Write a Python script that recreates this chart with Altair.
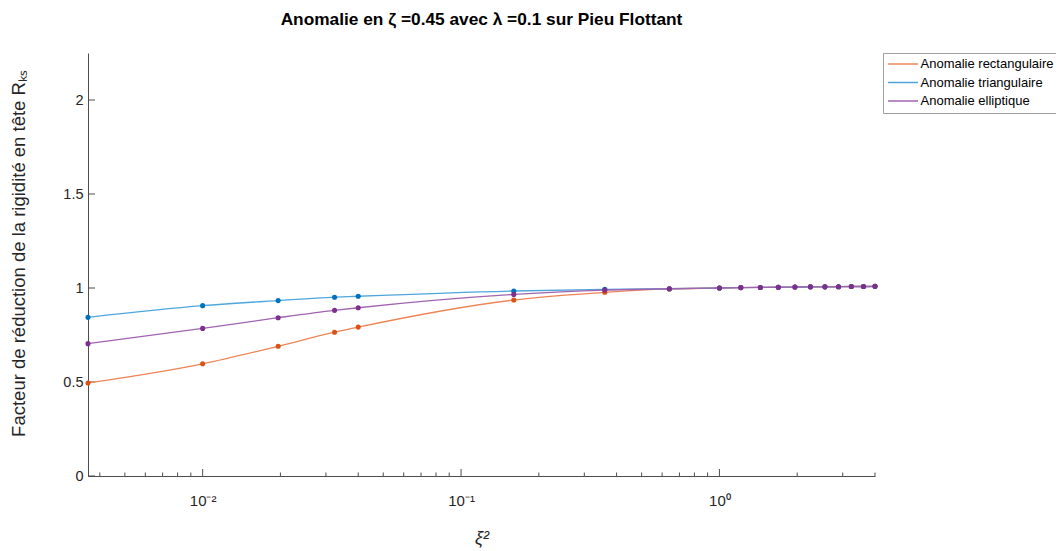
import altair as alt
import pandas as pd

# ---- data ----
xi2 = [0.0036, 0.01, 0.0196, 0.0324, 0.04, 0.16, 0.36, 0.64, 1.0, 1.21, 1.44,
       1.69, 1.96, 2.25, 2.56, 2.89, 3.24, 3.61, 4.0]
rect = [0.495, 0.597, 0.690, 0.765, 0.792, 0.936, 0.977, 0.995, 1.000, 1.002,
        1.003, 1.004, 1.005, 1.006, 1.006, 1.007, 1.008, 1.008, 1.009]
tri = [0.844, 0.906, 0.933, 0.951, 0.956, 0.984, 0.993, 0.996, 1.000, 1.002,
       1.003, 1.004, 1.005, 1.006, 1.006, 1.007, 1.008, 1.008, 1.009]
ell = [0.704, 0.785, 0.842, 0.881, 0.895, 0.966, 0.989, 0.996, 1.000, 1.002,
       1.003, 1.004, 1.005, 1.006, 1.006, 1.007, 1.008, 1.008, 1.009]
series = ["Anomalie rectangulaire", "Anomalie triangulaire", "Anomalie elliptique"]
line_colors = ["#ED8457", "#4FA6DC", "#A064B0"]
marker_colors = ["#D95319", "#0072BD", "#7E2F8E"]

major_ticks = [0.01, 0.1, 1.0]
minor_ticks = [0.004, 0.005, 0.006, 0.007, 0.008, 0.009,
               0.02, 0.03, 0.04, 0.05, 0.06, 0.07, 0.08, 0.09,
               0.2, 0.3, 0.4, 0.5, 0.6, 0.7, 0.8, 0.9,
               2.0, 3.0, 4.0]
y_ticks = [0, 0.5, 1, 1.5, 2]

rows = []
for name, vals in zip(series, [rect, tri, ell]):
    for x, y in zip(xi2, vals):
        rows.append({"serie": name, "x": x, "y": y, "order": series.index(name)})
df = pd.DataFrame(rows)

W, H = 787, 423
xscale = alt.Scale(type="log", domain=[0.0036, 4.0], nice=False)
yscale = alt.Scale(domain=[0, 2.25], nice=False)

x_axis = alt.Axis(
    values=major_ticks, ticks=False, grid=False,
    labelExpr="abs(datum.value-0.01)<1e-9 ? '10\u207b\u00b2' : abs(datum.value-0.1)<1e-9 ? '10\u207b\u00b9' : abs(datum.value-1)<1e-9 ? '10\u2070' : ''",
    labelPadding=17, labelFontSize=15,
    title="\u03be\u00b2", titleFontSize=18, titleFontStyle="italic",
    titleFontWeight="normal", titlePadding=21,
)
y_axis = alt.Axis(
    values=y_ticks, ticks=False, grid=False, format="~g",
    labelPadding=5, labelFontSize=14.5,
    title="Facteur de r\u00e9duction de la rigidit\u00e9 en t\u00eate R\u2096\u209b",
    titleFontSize=18.5, titleFontWeight="normal", titlePadding=34, titleY=200,
)

lines = alt.Chart(df).mark_line(interpolate="monotone", strokeWidth=1.3).encode(
    x=alt.X("x:Q", scale=xscale, axis=x_axis),
    y=alt.Y("y:Q", scale=yscale, axis=y_axis),
    color=alt.Color(
        "serie:N",
        scale=alt.Scale(domain=series, range=line_colors),
        sort=series,
        legend=alt.Legend(
            title=None, orient="none", legendX=795, legendY=0,
            symbolType="M-3,0H3", symbolSize=100, symbolStrokeWidth=1.5,
            symbolOffset=9,
            labelFontSize=13, labelFont="Liberation Sans", labelColor="#000000",
            fillColor="#ffffff", strokeColor="#a0a0a0", padding=4.5,
            rowPadding=4.5, labelOffset=11,
        ),
    ),
    order="order:Q",
)

points = alt.Chart(df).mark_circle(size=26, opacity=1).encode(
    x=alt.X("x:Q", scale=xscale),
    y=alt.Y("y:Q", scale=yscale),
    color=alt.Color("serie:N", scale=alt.Scale(domain=series, range=marker_colors), legend=None),
    order="order:Q",
)

major_df = pd.DataFrame({"t": major_ticks})
minor_df = pd.DataFrame({"t": minor_ticks})
ytick_df = pd.DataFrame({"v": y_ticks})

major_rules = alt.Chart(major_df).mark_rule(color="#4d4d4d", strokeWidth=1).encode(
    x=alt.X("t:Q", scale=xscale), y=alt.value(H), y2=alt.value(H - 7)
)
minor_rules = alt.Chart(minor_df).mark_rule(color="#4d4d4d", strokeWidth=1).encode(
    x=alt.X("t:Q", scale=xscale), y=alt.value(H), y2=alt.value(H - 3.5)
)
y_rules = alt.Chart(ytick_df).mark_rule(color="#4d4d4d", strokeWidth=1).encode(
    y=alt.Y("v:Q", scale=yscale), x=alt.value(0), x2=alt.value(7)
)

chart = alt.layer(major_rules, minor_rules, y_rules, lines, points).resolve_scale(
    color="independent"
).properties(
    width=W, height=H,
    background="white",
    autosize=alt.AutoSizeParams(type="none"),
    padding={"left": 80, "top": 45, "right": 181, "bottom": 72},
    title=alt.TitleParams(
        "Anomalie en \u03b6 =0.45 avec \u03bb =0.1 sur Pieu Flottant",
        fontSize=17.3, fontWeight="bold", font="Liberation Sans", anchor="middle",
        offset=24, color="#000000",
    ),
).configure_view(strokeWidth=0, stroke="transparent").configure_axis(
    domainColor="#4d4d4d", labelColor="#262626", titleColor="#262626",
    labelFont="Liberation Sans", titleFont="Liberation Sans",
)

chart.save("out.html", embed_options={"renderer": "svg", "actions": False})
